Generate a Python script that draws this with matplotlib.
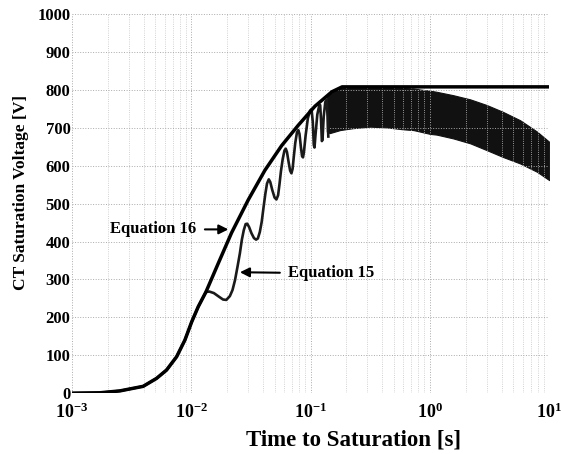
import numpy as np
import matplotlib
matplotlib.use('Agg')
import matplotlib.pyplot as plt
from matplotlib.ticker import FixedLocator, LogLocator, NullFormatter

plt.rcParams['font.family'] = ['Liberation Serif', 'DejaVu Serif']
plt.rcParams['font.weight'] = 'bold'
plt.rcParams['mathtext.fontset'] = 'custom'
plt.rcParams['mathtext.rm'] = 'Liberation Serif:bold'
plt.rcParams['mathtext.it'] = 'Liberation Serif:bold'
plt.rcParams['mathtext.bf'] = 'Liberation Serif:bold'

# Equation 16 - smooth envelope (time [s], voltage [V])
t16 = [0.001, 0.00172, 0.00253, 0.00396, 0.00513, 0.00622, 0.00755, 0.00886,
       0.0101, 0.01146, 0.0133, 0.0169, 0.0218, 0.0301, 0.0415, 0.0573,
       0.0791, 0.109, 0.151, 0.184, 10.0]
v16 = [0, 1, 6, 18, 39, 61, 96, 140, 188, 228, 267, 343, 423, 510, 588, 653,
       707, 757, 795, 808, 808]

# Equation 15 - oscillating curve, visible part
t15 = [0.001, 0.00172, 0.00253, 0.00396, 0.00513, 0.00622, 0.00755, 0.00886,
       0.0101, 0.01146, 0.0133, 0.0142, 0.0155, 0.0170, 0.0185, 0.0197,
       0.0211, 0.0222, 0.0233, 0.0245, 0.0256, 0.0266, 0.0276, 0.0286,
       0.0295, 0.0306, 0.0320, 0.0336, 0.0350, 0.0362, 0.0376, 0.0390,
       0.0404, 0.0418, 0.0432, 0.0447, 0.0460, 0.0478, 0.0500, 0.0518,
       0.0535, 0.0550, 0.0565, 0.0585, 0.0605, 0.0620, 0.0635, 0.0655,
       0.0675, 0.0692, 0.0708, 0.0725, 0.0745, 0.0770, 0.0790, 0.0808,
       0.0830, 0.0850, 0.0865, 0.0880, 0.0910, 0.0950, 0.0990, 0.1020,
       0.1045, 0.1065, 0.1080, 0.1100, 0.1140, 0.1180, 0.1205, 0.1225,
       0.1245, 0.1260, 0.1290, 0.1330, 0.1365, 0.1390, 0.1410]
v15 = [0, 1, 6, 18, 39, 61, 96, 140,
       188, 228, 267, 268, 264, 255, 247, 246,
       256, 272, 298, 335, 369, 405, 430, 446,
       447, 438, 422, 409, 405, 408, 425, 452,
       490, 525, 553, 564, 557, 536, 516, 511,
       522, 552, 585, 618, 640, 645, 636, 610,
       587, 580, 592, 625, 660, 688, 694, 684,
       650, 625, 622, 635, 680, 725, 745, 749,
       715, 655, 648, 680, 735, 757, 760, 720,
       665, 668, 730, 768, 774, 730, 677]

# Equation 15 - dense oscillation band (upper / lower envelope)
t_band = [0.137, 0.145, 0.177, 0.227, 0.316, 0.436, 0.597, 0.728, 0.828, 1.0,
          1.14, 1.57, 2.18, 3.0, 4.1, 5.7, 7.9, 10.0]
band_high = [780, 789, 806, 808, 808, 807, 805, 804, 801, 798, 795, 786, 775,
             760, 742, 720, 690, 663]
band_low = [690, 686, 694, 699, 703, 701, 696, 694, 690, 684, 682, 672, 659,
            641, 623, 606, 584, 562]

y_ticks = [0, 100, 200, 300, 400, 500, 600, 700, 800, 900, 1000]
x_ticks = [1e-3, 1e-2, 1e-1, 1e0, 1e1]
x_labels = ['$10^{-3}$', '$10^{-2}$', '$10^{-1}$', '$10^{0}$', '$10^{1}$']

fig = plt.figure(figsize=(5.61, 4.54), dpi=100)
ax = fig.add_axes([0.128, 0.134, 0.851, 0.835])

ax.fill_between(t_band, band_low, band_high, color='#111111', lw=0.8,
                edgecolor='#111111')
ax.plot(t15, v15, color='#1a1a1a', linewidth=1.9, solid_joinstyle='round')
ax.plot(t16, v16, color='black', linewidth=2.5, solid_joinstyle='round')

ax.set_xscale('log')
ax.set_xlim(1e-3, 10)
ax.set_ylim(0, 1000)

ax.xaxis.set_major_locator(FixedLocator(x_ticks))
ax.set_xticklabels(x_labels, fontsize=13)
ax.xaxis.set_minor_locator(LogLocator(base=10, subs=np.arange(2, 10)))
ax.xaxis.set_minor_formatter(NullFormatter())
ax.set_yticks(y_ticks)
ax.set_yticklabels([str(v) for v in y_ticks], fontsize=12)
ax.tick_params(axis='y', which='both', length=0, pad=1)
ax.tick_params(axis='x', which='both', length=0, pad=7)

ax.grid(True, which='major', color='#aaaaaa', linestyle=':', linewidth=0.7)
ax.grid(True, which='minor', axis='x', color='#c4c4c4', linestyle=':', linewidth=0.6)
for s in ax.spines.values():
    s.set_visible(False)

ax.set_xlabel('Time to Saturation [s]', fontsize=16.5, fontweight='bold')
ax.set_ylabel('CT Saturation Voltage [V]', fontsize=12.5, fontweight='bold')
ax.yaxis.set_label_coords(-0.09, 0.53)
ax.xaxis.set_label_coords(0.59, -0.097)

# annotations
ax.annotate('Equation 16', xy=(0.0205, 432), xytext=(0.0111, 432),
            fontsize=12, fontweight='bold', ha='right', va='center',
            arrowprops=dict(arrowstyle='-|>', color='black', lw=1.5,
                            mutation_scale=14, shrinkA=4, shrinkB=0))
ax.annotate('Equation 15', xy=(0.0256, 319), xytext=(0.0650, 316),
            fontsize=12, fontweight='bold', ha='left', va='center',
            arrowprops=dict(arrowstyle='-|>', color='black', lw=1.5,
                            mutation_scale=14, shrinkA=4, shrinkB=0))

fig.savefig('out.png', dpi=100)
